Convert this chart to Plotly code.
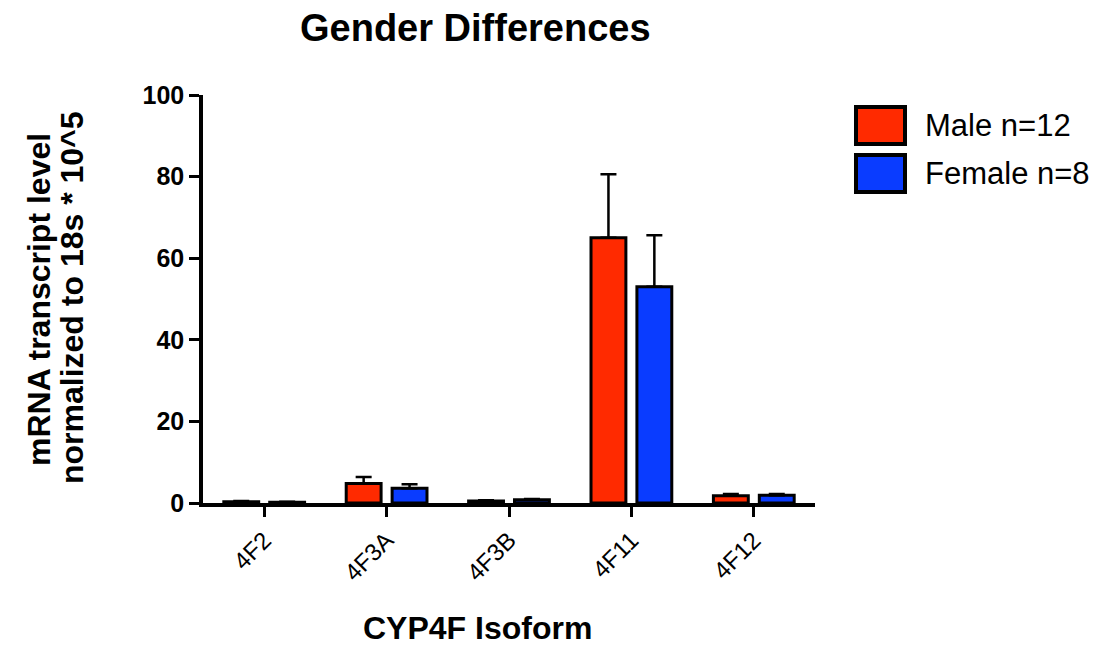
import plotly.graph_objects as go

# CYP4F isoform expression by gender (mean + SEM)
isoforms = ["4F2", "4F3A", "4F3B", "4F11", "4F12"]
male_mean = [0.3, 4.8, 0.5, 65.0, 1.8]
male_sem = [0.2, 1.6, 0.2, 15.6, 0.4]
female_mean = [0.2, 3.6, 0.8, 53.0, 1.9]
female_sem = [0.1, 1.0, 0.2, 12.6, 0.3]
series_names = ["Male n=12", "Female n=8"]
series_colors = ["#ff2a00", "#0a3cff"]

W, H = 1112, 648
L, R, T, B = 203, 297, 95, 145
PW, PH = W - L - R, H - T - B


def px_x(p):
    return (p - L) / PW


def px_y(p):
    return (H - B - p) / PH


fig = go.Figure()
for name, mean, sem, color in zip(series_names, [male_mean, female_mean],
                                  [male_sem, female_sem], series_colors):
    fig.add_trace(go.Bar(
        x=isoforms, y=mean, name=name,
        marker=dict(color=color, line=dict(color="black", width=3)),
        error_y=dict(type="data", array=sem, arrayminus=[0] * len(sem),
                     symmetric=False, color="black", thickness=2.5, width=8),
        showlegend=False,
    ))

font_main = "Liberation Sans, Arial, Helvetica, sans-serif"

fig.update_layout(
    width=W, height=H, autosize=False,
    margin=dict(l=L, r=R, t=T, b=B),
    paper_bgcolor="white", plot_bgcolor="white",
    barmode="group", bargap=0.25, bargroupgap=0.24,
    font=dict(family=font_main, color="black"),
    xaxis=dict(
        showline=True, linecolor="black", linewidth=3.5,
        ticks="outside", ticklen=10, tickwidth=3, tickcolor="black",
        tickangle=-45, tickfont=dict(size=24, family=font_main),
        showgrid=False, zeroline=False,
    ),
    yaxis=dict(
        range=[0, 100], tickvals=[0, 20, 40, 60, 80, 100],
        showline=True, linecolor="black", linewidth=3.5,
        ticks="outside", ticklen=10, tickwidth=3, tickcolor="black",
        tickfont=dict(size=25, family="Liberation Sans, Arial", weight="bold"),
        showgrid=False, zeroline=False,
    ),
)


def label(text, x, y, size, angle=0, xanchor="center"):
    fig.add_annotation(text=text, xref="paper", yref="paper",
                       x=px_x(x), y=px_y(y), xanchor=xanchor, yanchor="middle",
                       showarrow=False, textangle=angle, borderpad=0,
                       font=dict(size=size, family=font_main))


# titles
label("<b>Gender Differences</b>", 475, 28, 38)
label("<b>CYP4F Isoform</b>", 477, 628, 32)
label("<b>mRNA transcript level</b>", 39, 300, 32, angle=-90)
label("<b>normalized to 18s * 10^5</b>", 72, 298, 32, angle=-90)

# legend drawn as swatches with labels
legend_rows = [(107, 144), (155, 192)]
for (y0, y1), name, color in zip(legend_rows, series_names, series_colors):
    fig.add_shape(type="rect", xref="paper", yref="paper",
                  x0=px_x(856), x1=px_x(905), y0=px_y(y1), y1=px_y(y0),
                  fillcolor=color, line=dict(color="black", width=4))
    label(name, 924, (y0 + y1) / 2, 31, xanchor="left")

fig.write_html("out.html")
